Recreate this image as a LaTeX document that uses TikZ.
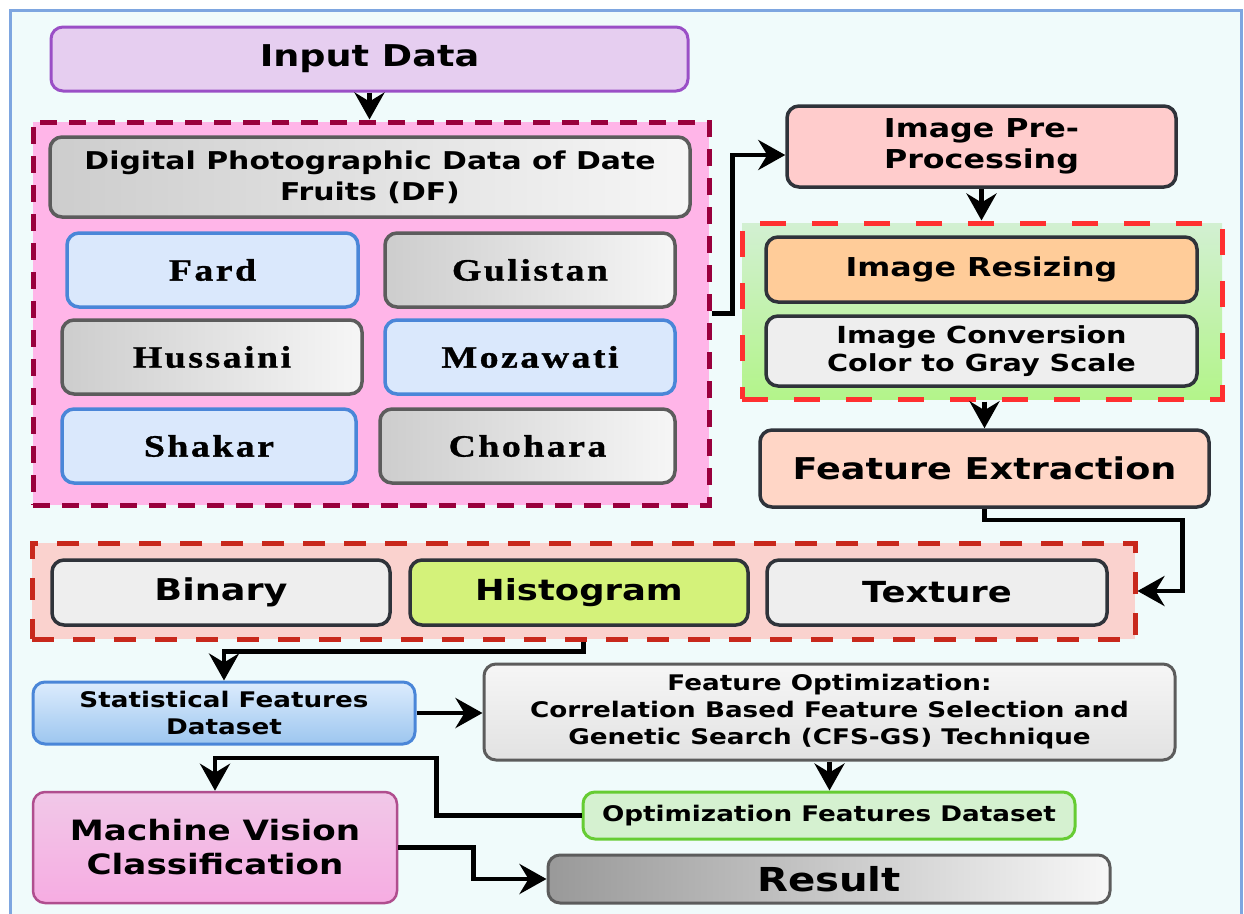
\documentclass[tikz,border=0pt]{standalone}
\usepackage{fontspec}
\usetikzlibrary{arrows.meta}
\newfontfamily\sansface{DejaVu Sans}[FakeStretch=1.22]
\newfontfamily\serifface{Liberation Serif}[FakeStretch=1.22,LetterSpace=8,FakeBold=1]
\newcommand\sz[2]{\fontsize{#1}{#2}\selectfont}
% node from its corner coordinates: style, name, x1, y1, x2, y2, text
\newcommand\placebox[7]{\node[#1, minimum width={#5-#3}, minimum height={#6-#4}] (#2) at ({(#3+#5)/2},{(#4+#6)/2}) {#7};}

\definecolor{bgcyan}{HTML}{F0FBFB}
\definecolor{framebl}{HTML}{7EA6E0}
\definecolor{inpfill}{HTML}{E6CEF0}
\definecolor{inpdraw}{HTML}{9A4FC6}
\definecolor{pinkfill}{HTML}{FFB5E8}
\definecolor{pinkdash}{HTML}{99003D}
\definecolor{grayL}{HTML}{CDCDCD}
\definecolor{grayR}{HTML}{F6F6F6}
\definecolor{graydraw}{HTML}{5C5C5C}
\definecolor{bluefill}{HTML}{DAE8FC}
\definecolor{bluedraw}{HTML}{4A86D8}
\definecolor{salmon}{HTML}{FFCCCC}
\definecolor{darkdraw}{HTML}{2F333A}
\definecolor{orangef}{HTML}{FFCC99}
\definecolor{lightgray}{HTML}{EEEEEE}
\definecolor{fefill}{HTML}{FFD6C6}
\definecolor{greentop}{HTML}{D2F0D2}
\definecolor{greenbot}{HTML}{B3F48A}
\definecolor{reddash}{HTML}{FF3030}
\definecolor{redgrpfill}{HTML}{FAD2CE}
\definecolor{redgrpdash}{HTML}{C8281C}
\definecolor{histfill}{HTML}{D4F27A}
\definecolor{stattop}{HTML}{DCECFD}
\definecolor{statbot}{HTML}{9DC6EF}
\definecolor{fotop}{HTML}{F6F6F6}
\definecolor{fobot}{HTML}{E2E2E2}
\definecolor{ofdfill}{HTML}{D5F1D0}
\definecolor{ofddraw}{HTML}{66CC33}
\definecolor{mvctop}{HTML}{F1C8E8}
\definecolor{mvcbot}{HTML}{F6ACE2}
\definecolor{mvcdraw}{HTML}{B04E8E}
\definecolor{resL}{HTML}{999999}
\definecolor{resR}{HTML}{F7F7F7}

\begin{document}
\begin{tikzpicture}[x=1pt,y=-1pt,
  base/.style={rounded corners=12pt, line width=3.5pt, inner sep=0pt, align=center, text=black},
  sans/.style 2 args={font=\sansface\bfseries\sz{#1}{#2}},
  serif/.style={font=\serifface\bfseries\sz{31}{34}},
  grp/.style={line width=5pt, inner sep=0pt},
  graygrad/.style={left color=grayL, right color=grayR, draw=graydraw},
  bluebox/.style={fill=bluefill, draw=bluedraw},
  darkbox/.style={draw=darkdraw},
  arr/.style={line width=4.5pt, -{Stealth[length=27pt,width=30pt,inset=9pt]}, line join=miter}
]
\useasboundingbox (0,0) rectangle (1244,913);
\fill[white] (0,0) rectangle (1244,913);
\begin{scope}
  \clip (0,0) rectangle (1244,913);
  \draw[line width=3pt, draw=framebl, fill=bgcyan] (10.5,10.5) rectangle (1241,940);
\end{scope}

% input
\placebox{base, fill=inpfill, draw=inpdraw, line width=3pt, sans={30}{34}}{input}{51}{27}{688}{91}{Input Data}

% date fruit group
\placebox{grp, fill=pinkfill, draw=pinkdash, dash pattern=on 17pt off 12pt}{pinkgrp}{33}{122}{709}{505}{}
\placebox{base, graygrad, sans={24.5}{31}}{dpd}{50}{137}{690}{217}{Digital Photographic Data of Date\\Fruits (DF)}
\placebox{base, bluebox, serif}{fard}{67}{233}{358}{307}{Fard}
\placebox{base, graygrad, serif}{gulistan}{385}{233}{675}{307}{Gulistan}
\placebox{base, graygrad, serif}{hussaini}{62}{320}{362}{394}{Hussaini}
\placebox{base, bluebox, serif}{mozawati}{385}{320}{675}{394}{Mozawati}
\placebox{base, bluebox, serif}{shakar}{62}{409}{356}{483}{Shakar}
\placebox{base, graygrad, serif}{chohara}{380}{409}{675}{483}{Chohara}

% pre-processing
\placebox{base, darkbox, fill=salmon, sans={26}{31}}{imgpre}{787}{106}{1176}{187}{Image Pre-\\Processing}
\placebox{grp, top color=greentop, bottom color=greenbot, draw=reddash, dash pattern=on 26pt off 26pt}{greengrp}{742}{223}{1222}{399}{}
\placebox{base, darkbox, fill=orangef, sans={26}{30}}{resize}{766}{237}{1197}{302}{Image Resizing}
\placebox{base, darkbox, fill=lightgray, sans={23.5}{28}}{convert}{766}{316}{1197}{386}{Image Conversion\\Color to Gray Scale}
\placebox{base, darkbox, fill=fefill, sans={30}{34}}{fe}{760}{430}{1209}{507}{Feature Extraction}

% extracted features
\placebox{grp, fill=redgrpfill, draw=redgrpdash, dash pattern=on 22pt off 19pt}{redgrp}{32}{543}{1135}{639}{}
\placebox{base, darkbox, fill=lightgray, sans={30}{34}}{binary}{52}{560}{390}{625}{Binary}
\placebox{base, darkbox, fill=histfill, sans={29}{34}}{hist}{410}{560}{748}{625}{Histogram}
\placebox{base, darkbox, fill=lightgray, sans={29}{34}}{texture}{767}{560}{1107}{625}{Texture}

% datasets and classification
\placebox{base, top color=stattop, bottom color=statbot, draw=bluedraw, line width=3pt, sans={21.5}{27}}{stat}{33}{682}{415}{744}{Statistical Features\\Dataset}
\placebox{base, top color=fotop, bottom color=fobot, draw=graydraw, line width=3pt, sans={21.5}{27}}{fo}{484}{664}{1175}{760}{Feature Optimization:\\Correlation Based Feature Selection and\\Genetic Search (CFS-GS) Technique}
\placebox{base, fill=ofdfill, draw=ofddraw, line width=3pt, sans={21.5}{27}}{ofd}{583}{792}{1075}{839}{Optimization Features Dataset}
\placebox{base, top color=mvctop, bottom color=mvcbot, draw=mvcdraw, line width=2.5pt, sans={28}{34}}{mvc}{33}{792}{397}{903}{Machine Vision\\Classification}
\placebox{base, left color=resL, right color=resR, draw=graydraw, line width=3pt, sans={33}{38}}{result}{548}{855}{1110}{903}{Result}

% connectors
\draw[arr] (input.south) -- (input.south |- pinkgrp.north);
\draw[arr] (pinkgrp.east) -- ++(21,0) |- ([yshift=-8.5pt]imgpre.west);
\draw[arr] (imgpre.south) -- (imgpre.south |- greengrp.north);
\draw[arr] (fe.north |- greengrp.south) -- (fe.north);
\draw[arr] (fe.south) -- ++(0,11) -| ([xshift=45pt]redgrp.east) -- (redgrp.east);
\draw[arr] (redgrp.south) -- ++(0,10) -| (stat.north);
\draw[arr] (stat.east) -- (stat.east -| fo.west);
\draw[arr] (fo.south) -- (fo.south |- ofd.north);
\draw[arr] (ofd.west) -- ++(-145,0) |- ([yshift=33pt]mvc.north) -- (mvc.north);
\draw[arr] (mvc.east) -- ++(75,0) |- (result.west);
\end{tikzpicture}
\end{document}
